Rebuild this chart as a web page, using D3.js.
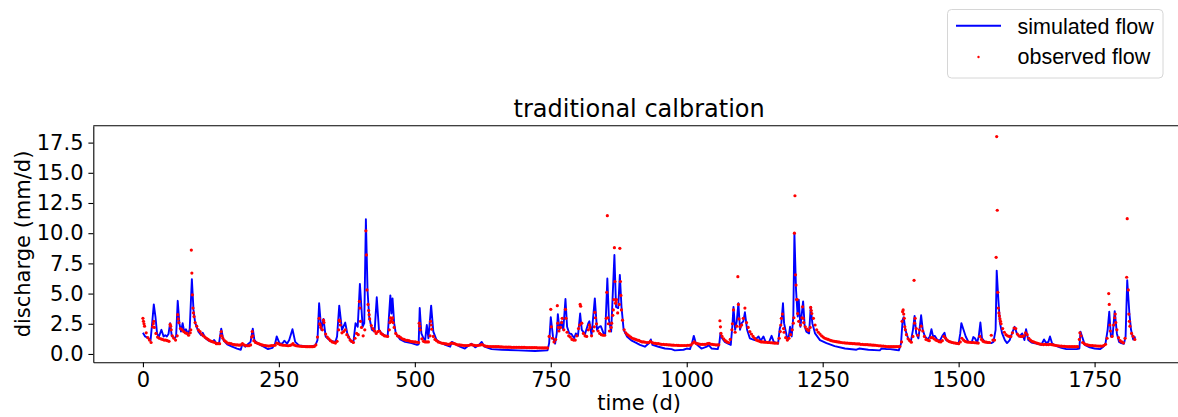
<!DOCTYPE html>
<html><head><meta charset="utf-8">
<script src="https://cdn.jsdelivr.net/npm/d3@7"></script>
<style>body{margin:0;background:#fff}svg{display:block}</style>
</head><body>
<svg id="chart" width="1178" height="417"></svg>
<script>
// simulated flow: [day, discharge mm/d]
const simPoints = [[0,1.75],[4,1.45],[10,1.3],[14,1.1],[17,2.55],[20,4.1],[23,3.1],[26,1.7],[29,1.4],[34,2.0],[38,1.45],[41,1.55],[44,1.45],[47,1.65],[50,2.55],[53,1.5],[58,1.3],[61,1.45],[64,4.4],[67,2.55],[70,1.85],[73,2.55],[76,1.85],[79,2.05],[83,1.65],[86,2.05],[90,6.2],[93,3.65],[96,2.6],[102,1.85],[107,1.55],[110,1.75],[115,1.3],[121,1.1],[127,1.0],[131,1.15],[136,0.85],[140,0.9],[144,2.1],[148,1.15],[155,0.8],[164,0.6],[173,0.45],[180,0.35],[183,0.85],[188,0.6],[194,0.85],[198,1.0],[202,2.1],[205,1.15],[211,0.85],[222,0.6],[230,0.4],[238,0.5],[243,0.85],[246,1.45],[251,0.9],[256,0.85],[260,1.1],[265,0.85],[269,1.15],[275,2.05],[280,1.0],[287,0.7],[305,0.6],[317,0.7],[321,1.15],[324,4.2],[328,2.0],[332,2.9],[336,1.45],[344,1.1],[354,1.0],[357,1.45],[361,4.0],[366,2.0],[372,2.6],[376,1.65],[383,1.0],[387,0.95],[391,2.55],[395,2.25],[399,5.8],[404,2.25],[407,2.55],[410,11.15],[413,5.3],[416,3.1],[421,2.0],[426,1.85],[430,4.7],[434,2.0],[439,1.7],[446,1.5],[450,1.45],[455,4.85],[457,3.35],[459,4.6],[462,2.55],[465,1.7],[473,1.2],[482,1.0],[494,0.9],[504,0.75],[507,0.8],[509,3.8],[512,1.7],[516,1.3],[519,1.15],[522,2.4],[525,1.3],[530,4.0],[534,1.85],[540,1.15],[547,0.95],[556,0.75],[565,0.6],[568,1.0],[574,0.85],[583,0.6],[592,0.45],[599,0.7],[604,0.85],[611,0.55],[618,0.75],[623,1.0],[628,0.6],[641,0.4],[660,0.35],[690,0.3],[721,0.25],[744,0.3],[747,0.9],[750,3.05],[754,1.45],[758,0.85],[761,1.7],[763,3.3],[766,2.0],[770,2.7],[773,2.0],[777,4.55],[780,2.25],[784,1.7],[788,1.65],[793,1.3],[796,1.7],[800,1.5],[804,3.35],[807,2.0],[813,1.65],[819,2.55],[821,2.7],[825,1.55],[831,4.6],[835,2.0],[839,2.25],[842,2.3],[847,1.7],[850,1.55],[854,6.25],[857,2.8],[861,1.85],[863,3.9],[867,8.2],[870,3.9],[874,3.8],[877,6.55],[880,3.9],[884,2.0],[890,1.45],[899,1.1],[908,0.9],[914,0.75],[923,0.6],[931,0.9],[934,1.2],[937,0.75],[948,0.6],[960,0.45],[972,0.4],[978,0.3],[994,0.35],[1000,0.45],[1006,0.4],[1010,0.95],[1013,1.5],[1017,0.85],[1027,0.45],[1037,0.6],[1040,0.75],[1046,0.45],[1057,0.4],[1060,0.9],[1062,1.75],[1065,1.3],[1070,1.0],[1076,0.85],[1081,0.75],[1084,2.4],[1086,3.9],[1089,2.0],[1092,2.7],[1095,4.2],[1098,2.0],[1101,2.55],[1104,2.7],[1107,3.45],[1111,2.0],[1116,1.3],[1125,1.15],[1132,1.45],[1136,1.1],[1141,1.45],[1145,1.0],[1151,0.95],[1156,1.5],[1160,1.0],[1168,0.85],[1171,2.1],[1174,2.55],[1177,4.2],[1179,2.55],[1184,1.45],[1187,1.2],[1190,2.25],[1193,1.45],[1196,3.1],[1198,10.0],[1201,5.3],[1204,3.1],[1206,4.5],[1209,2.25],[1214,4.35],[1217,2.25],[1220,1.85],[1225,1.7],[1228,3.9],[1231,2.55],[1236,1.7],[1245,1.15],[1257,0.9],[1272,0.65],[1291,0.45],[1312,0.35],[1317,0.45],[1334,0.35],[1355,0.3],[1358,0.45],[1368,0.4],[1374,0.4],[1383,0.35],[1390,0.3],[1394,0.85],[1397,2.8],[1399,3.05],[1402,2.0],[1407,1.3],[1412,1.0],[1416,2.0],[1419,3.15],[1422,1.7],[1426,1.3],[1428,2.0],[1431,3.2],[1434,2.0],[1438,1.45],[1443,1.2],[1447,1.45],[1450,2.05],[1453,1.45],[1456,1.5],[1461,1.15],[1466,1.15],[1470,1.5],[1474,1.75],[1477,1.15],[1484,1.0],[1493,0.9],[1500,0.85],[1503,1.7],[1505,2.55],[1509,2.0],[1513,1.45],[1518,1.0],[1524,0.95],[1527,1.4],[1530,1.3],[1534,0.95],[1537,1.45],[1540,2.6],[1543,1.3],[1548,1.0],[1554,0.95],[1560,0.9],[1564,1.0],[1568,2.0],[1570,6.9],[1573,4.5],[1576,2.55],[1580,1.7],[1585,1.15],[1589,0.9],[1594,1.15],[1598,1.7],[1603,2.25],[1607,1.7],[1611,1.45],[1614,1.55],[1617,1.7],[1621,1.15],[1624,2.05],[1628,1.15],[1634,0.95],[1643,0.85],[1652,0.75],[1657,1.2],[1661,0.9],[1665,1.0],[1668,1.45],[1672,0.85],[1680,0.65],[1689,0.5],[1698,0.4],[1717,0.4],[1722,0.45],[1724,1.85],[1727,1.45],[1732,0.75],[1741,0.55],[1750,0.45],[1760,0.4],[1766,0.6],[1770,0.85],[1774,2.0],[1777,3.5],[1780,1.45],[1783,1.45],[1787,3.55],[1791,1.7],[1795,1.0],[1799,0.9],[1804,0.85],[1807,1.45],[1810,6.1],[1814,3.35],[1817,2.0],[1821,1.2],[1825,1.45]];

// observed flow, one reading every 3 days starting at day 0
const obsStep = 3;
const obsQ = [
2.95,2.3,1.75,1.35,1.15,0.95,2.25,2.2,1.7,1.4,
1.3,1.25,1.2,1.15,1.15,1.1,1.05,2.3,1.5,1.3,
1.15,1.5,2.6,2.1,2.0,1.85,1.75,1.7,1.55,1.75,
6.7,3.4,2.6,2.3,2.0,1.85,1.65,1.5,1.4,1.3,
1.2,1.1,1.05,1.0,0.95,0.85,0.85,0.85,1.85,1.3,
1.1,1.0,0.9,0.88,0.85,0.8,0.78,0.75,0.75,0.73,
0.75,0.85,0.75,0.7,0.68,0.68,0.75,1.85,1.1,0.95,
0.9,0.85,0.8,0.75,0.72,0.7,0.68,0.65,0.68,0.7,
0.7,0.72,0.9,0.85,0.78,0.75,0.72,0.72,0.7,0.68,
0.7,0.75,0.85,0.72,0.68,0.66,0.65,0.63,0.62,0.62,
0.6,0.6,0.6,0.6,0.6,0.62,0.75,1.4,2.95,2.2,
2.0,2.6,1.65,1.4,1.25,1.1,1.0,0.95,0.9,1.05,
2.0,2.4,1.75,1.85,2.0,1.6,1.4,1.15,1.05,0.95,
1.3,1.7,1.6,3.8,2.2,1.5,2.0,8.2,4.1,2.9,
2.35,2.1,1.9,1.7,1.85,1.9,1.7,1.6,1.5,1.48,
1.45,2.0,2.75,3.0,2.2,1.7,1.5,1.45,1.35,1.25,
1.2,1.15,1.12,1.1,1.05,1.02,1.0,1.0,0.97,0.95,
2.0,1.25,1.05,1.0,1.0,1.0,1.5,2.05,1.45,1.2,
1.1,1.0,0.95,0.9,0.88,0.85,0.83,0.8,0.82,0.9,
0.88,0.85,0.8,0.75,0.75,0.73,0.72,0.7,0.7,0.7,
0.72,0.78,0.75,0.72,0.7,0.7,0.72,0.75,0.78,0.7,
0.65,0.63,0.62,0.62,0.6,0.6,0.6,0.6,0.6,0.58,
0.58,0.57,0.57,0.56,0.56,0.56,0.55,0.55,0.55,0.55,
0.55,0.55,0.54,0.54,0.54,0.53,0.53,0.53,0.52,0.52,
0.52,0.52,0.51,0.51,0.51,0.5,0.5,0.5,0.5,1.45,
3.7,1.3,1.0,1.2,4.0,1.9,2.2,2.95,2.0,3.7,
1.8,1.5,1.4,1.2,1.15,1.15,1.5,2.1,4.1,2.55,
1.7,1.5,1.45,2.0,2.2,1.5,1.9,3.45,2.5,1.9,
1.7,1.6,1.55,1.55,2.95,3.0,1.9,2.2,3.2,8.8,
4.3,3.4,4.1,4.85,2.8,2.0,1.75,1.6,1.5,1.4,
1.3,1.25,1.2,1.15,1.12,1.05,1.0,1.0,0.97,0.95,
0.95,1.05,0.95,0.9,0.88,0.86,0.85,0.82,0.8,0.8,
0.78,0.77,0.76,0.75,0.74,0.73,0.72,0.72,0.71,0.7,
0.7,0.7,0.7,0.7,0.72,0.72,0.75,0.9,1.0,0.88,
0.85,0.82,0.8,0.8,0.8,0.8,0.85,0.88,0.82,0.8,
0.78,0.76,0.75,0.76,2.25,1.45,1.25,1.1,1.0,0.95,
1.2,2.0,3.65,1.8,2.3,4.1,2.25,2.4,2.95,3.8,
2.6,2.2,1.85,1.65,1.45,1.3,1.15,1.1,1.05,1.0,
1.0,0.98,0.97,0.95,0.95,0.93,0.92,0.9,0.9,0.9,
1.3,2.4,3.3,1.8,1.35,1.15,1.3,1.6,2.0,3.0,
6.55,4.5,2.7,2.4,3.0,2.6,2.25,2.05,1.95,2.2,
3.35,2.95,2.4,2.0,1.8,1.65,1.5,1.4,1.3,1.25,
1.2,1.15,1.1,1.07,1.05,1.02,1.0,0.98,0.95,0.93,
0.92,0.9,0.9,0.88,0.87,0.86,0.85,0.84,0.83,0.83,
0.8,0.8,0.78,0.78,0.77,0.76,0.75,0.74,0.73,0.72,
0.7,0.68,0.67,0.66,0.65,0.63,0.62,0.6,0.6,0.6,
0.6,0.6,0.6,0.6,0.62,1.0,3.65,2.25,1.6,1.25,
1.1,0.98,1.45,2.55,2.1,1.55,2.0,2.3,1.9,1.45,
1.2,1.15,1.1,1.35,1.35,1.25,1.15,1.1,1.02,1.0,
1.1,1.45,1.3,1.15,1.05,1.0,0.95,0.92,0.9,0.88,
0.85,1.0,1.3,1.15,1.05,1.0,0.98,0.97,0.95,0.95,
0.93,0.92,0.9,1.45,1.2,1.05,1.0,0.98,0.95,0.95,
1.55,1.15,1.15,8.0,5.1,3.15,2.5,2.1,1.8,1.6,
1.5,1.45,1.45,1.75,2.15,2.1,1.65,1.5,1.45,1.45,
1.5,1.75,1.6,1.3,1.15,1.05,1.0,0.95,0.9,0.85,
0.82,0.8,0.78,0.8,0.78,0.78,0.8,0.78,0.75,0.72,
0.7,0.68,0.66,0.65,0.64,0.63,0.62,0.61,0.6,0.6,
0.6,0.6,0.6,0.6,1.2,1.5,0.95,0.85,0.78,0.75,
0.72,0.7,0.7,0.68,0.67,0.66,0.65,0.65,0.65,0.7,
0.8,1.3,5.0,1.9,1.45,2.4,3.3,2.0,1.35,1.1,
1.0,0.92,1.3,6.35,5.3,2.3,1.7,1.45,1.2];

// additional observed readings on event days: [day, discharge]
const obsPeaks = [[1,2.7],[2,2.5],[19,2.5],[20,2.7],[50,2.45],[52,2.0],[64,3.25],[65,2.9],[88,2.0],[89,8.6],[91,4.9],[92,3.8],[94,3.1],[143,1.5],[145,1.5],[200,1.4],[202,1.5],[325,2.5],[326,2.4],[332,2.8],[361,2.8],[362,2.7],[398,4.35],[400,2.7],[410,10.2],[412,5.3],[415,3.6],[416,3.25],[454,2.6],[455,3.0],[457,2.7],[458,2.9],[460,2.6],[508,2.55],[509,2.3],[529,2.7],[530,2.4],[751,2.25],[763,2.55],[764,2.2],[770,2.6],[778,2.95],[803,2.4],[805,3.95],[821,2.4],[830,2.25],[832,3.0],[853,5.1],[854,11.45],[856,2.5],[862,2.55],[865,3.65],[866,4.5],[868,6.0],[869,4.2],[871,4.5],[877,8.75],[878,6.0],[880,3.65],[1061,2.75],[1063,1.7],[1084,2.5],[1094,6.4],[1096,2.9],[1172,1.85],[1174,2.95],[1178,2.1],[1196,2.55],[1198,10.0],[1199,13.1],[1201,5.7],[1202,4.5],[1204,3.35],[1213,3.9],[1214,2.95],[1228,3.85],[1229,3.6],[1396,2.7],[1397,3.5],[1399,3.3],[1400,2.95],[1402,2.0],[1418,6.1],[1420,2.95],[1570,18.0],[1571,11.9],[1573,3.8],[1574,3.4],[1576,2.9],[1577,2.7],[1723,1.75],[1777,4.1],[1778,2.4],[1787,3.0],[1789,2.6],[1810,11.2],[1813,3.3],[1814,2.7]];

const xTicks = [0,250,500,750,1000,1250,1500,1750];
const yTicks = [0,2.5,5,7.5,10,12.5,15,17.5];
const titleText = "traditional calbration";
const xLabel = "time (d)";
const yLabel = "discharge (mm/d)";
const legendLabels = ["simulated flow","observed flow"];

const svg = d3.select("#chart");
svg.append("rect").attr("width",1178).attr("height",417).attr("fill","#fff");

const L = 93.3, R = 1185, T = 125.7, B = 362.3;
const x = d3.scaleLinear().domain([-91.25, 1916.25]).range([L, R]);
const y = d3.scaleLinear().domain([-0.69, 18.9]).range([B, T]);

const tickFont = "'DejaVu Sans', sans-serif";

svg.append("defs").append("clipPath").attr("id","clip")
  .append("rect").attr("x",L).attr("y",T).attr("width",R-L).attr("height",B-T);

const plot = svg.append("g").attr("clip-path","url(#clip)");

const obsData = obsQ.map((q,i)=>[i*obsStep,q]).concat(obsPeaks);

plot.append("path").datum(simPoints)
  .attr("fill","none").attr("stroke","#0000ff").attr("stroke-width",1.9)
  .attr("stroke-linejoin","round")
  .attr("d", d3.line().x(d=>x(d[0])).y(d=>y(d[1])));

plot.append("g").selectAll("circle").data(obsData).join("circle")
  .attr("cx",d=>x(d[0])).attr("cy",d=>y(d[1])).attr("r",1.6).attr("fill","#ff0000");

// axes
const xAxis = svg.append("g").attr("transform",`translate(0,${B})`)
  .call(d3.axisBottom(x).tickValues(xTicks).tickFormat(d=>String(d)).tickSize(4.9).tickPadding(4.9).tickSizeOuter(0));
const yAxis = svg.append("g").attr("transform",`translate(${L},0)`)
  .call(d3.axisLeft(y).tickValues(yTicks).tickFormat(d3.format(".1f")).tickSize(4.9).tickPadding(4.9).tickSizeOuter(0));
[xAxis,yAxis].forEach(a=>{
  a.selectAll("text").attr("font-family",tickFont).attr("font-size",21).attr("fill","#000");
  a.selectAll("line").attr("stroke","#000").attr("stroke-width",1.1);
  a.select(".domain").attr("stroke","#000").attr("stroke-width",1.1);
});
svg.append("line").attr("x1",L).attr("x2",R).attr("y1",T).attr("y2",T)
  .attr("stroke","#000").attr("stroke-width",1.1);

svg.append("text").attr("x",(L+R)/2).attr("y",117).attr("text-anchor","middle")
  .attr("font-family",tickFont).attr("font-size",24).text(titleText);
svg.append("text").attr("x",(L+R)/2).attr("y",410).attr("text-anchor","middle")
  .attr("font-family",tickFont).attr("font-size",21).text(xLabel);
svg.append("text").attr("transform",`translate(30,${(T+B)/2}) rotate(-90)`).attr("text-anchor","middle")
  .attr("font-family",tickFont).attr("font-size",21).text(yLabel);

// legend
const lg = svg.append("g");
lg.append("rect").attr("x",947.5).attr("y",9.5).attr("width",215.5).attr("height",68.5).attr("rx",4)
  .attr("fill","#fff").attr("stroke","#d6d6d6").attr("stroke-width",1);
lg.append("line").attr("x1",956).attr("x2",1001).attr("y1",25.7).attr("y2",25.7)
  .attr("stroke","#0000ff").attr("stroke-width",1.9);
lg.append("circle").attr("cx",978.5).attr("cy",57).attr("r",1.2).attr("fill","#ff0000");
lg.selectAll("text.l").data(legendLabels).join("text")
  .attr("x",1017.5).attr("y",(d,i)=>33.5+i*30)
  .attr("font-family","'Liberation Sans', Arial, sans-serif").attr("font-size",21.5).text(d=>d);
</script>
</body></html>
